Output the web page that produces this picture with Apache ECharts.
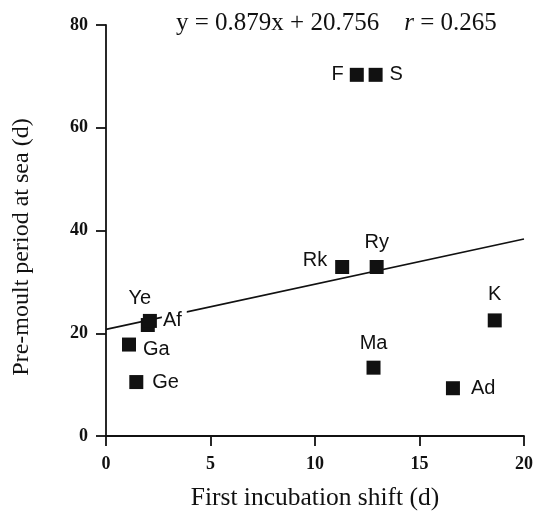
<!DOCTYPE html>
<html>
<head>
<meta charset="utf-8">
<script src="https://cdn.jsdelivr.net/npm/echarts@6/dist/echarts.min.js"></script>
<style>
html,body{margin:0;padding:0;background:#fff;}
#chart{width:541px;height:516px;}
</style>
</head>
<body>
<div id="chart"></div>
<script>
// Data
const names  = ['F', 'S', 'Rk', 'Ry', 'K', 'Ma', 'Ad', 'Ye', 'Af', 'Ga', 'Ge'];
const xVals  = [12.0, 12.9, 11.3, 12.95, 18.6, 12.8, 16.6, 2.0, 2.1, 1.1, 1.45];
const yVals  = [70.3, 70.3, 32.9, 32.9, 22.5, 13.3, 9.3, 21.6, 22.4, 17.8, 10.5];
const slope = 0.879;
const intercept = 20.756;
const rValue = 0.265;
const xTicks = [0, 5, 10, 15, 20];
const yTicks = [0, 20, 40, 60, 80];
const xTitle = 'First incubation shift (d)';
const yTitle = 'Pre-moult period at sea (d)';

// label placement per point (style only)
const labelPos = {
  F:  {position: 'left',   distance: 6},
  S:  {position: 'right',  distance: 7},
  Rk: {position: 'left',   distance: 8, offset: [0, -6]},
  Ry: {position: 'top',    distance: 7},
  K:  {position: 'top',    distance: 9},
  Ma: {position: 'top',    distance: 7},
  Ad: {position: 'right',  distance: 11},
  Ye: {position: 'top',    distance: 6, offset: [-8, -4]},
  Af: {position: 'right',  distance: 5, backgroundColor: '#fff', padding: [0, 5, 0, 1]},
  Ga: {position: 'right',  distance: 7, offset: [0, 5]},
  Ge: {position: 'right',  distance: 9}
};

const points = names.map((n, i) => ({
  value: [xVals[i], yVals[i]],
  label: Object.assign({show: true, formatter: n}, labelPos[n])
}));

const fitLine = [
  [xTicks[0], slope * xTicks[0] + intercept],
  [xTicks[xTicks.length - 1], slope * xTicks[xTicks.length - 1] + intercept]
];

const ink = '#111';
const chart = echarts.init(document.getElementById('chart'), null, {renderer: 'canvas'});
chart.setOption({
  animation: false,
  backgroundColor: '#fff',
  title: {
    left: 171,
    top: 6,
    text: '{n|y = ' + slope.toFixed(3) + 'x + ' + intercept.toFixed(3) + '    }{i|r}{n| = ' + rValue.toFixed(3) + '}',
    textStyle: {
      fontWeight: 'normal',
      rich: {
        n: {fontFamily: 'Liberation Serif', fontSize: 25, fontWeight: 'normal', color: ink},
        i: {fontFamily: 'Liberation Serif', fontSize: 25, fontWeight: 'normal', fontStyle: 'italic', color: ink}
      }
    }
  },
  graphic: [{
    type: 'text',
    x: 22,
    y: 247,
    rotation: Math.PI / 2,
    style: {
      text: yTitle,
      fontFamily: 'Liberation Serif',
      fontSize: 24,
      fill: ink,
      align: 'center',
      verticalAlign: 'middle'
    }
  }],
  grid: {left: 106, right: 17, top: 25, bottom: 75, containLabel: false},
  xAxis: {
    type: 'value',
    min: xTicks[0], max: xTicks[xTicks.length - 1], interval: 5,
    name: xTitle,
    nameLocation: 'middle',
    nameGap: 49,
    nameTextStyle: {fontFamily: 'Liberation Serif', fontSize: 25.5, color: ink},
    axisLine: {lineStyle: {color: ink, width: 1.8}},
    axisTick: {show: true, inside: false, length: 10, lineStyle: {color: ink, width: 1.8}},
    axisLabel: {fontFamily: 'Liberation Serif', fontWeight: 'bold', fontSize: 18, color: ink, margin: 19},
    splitLine: {show: false}
  },
  yAxis: {
    type: 'value',
    min: yTicks[0], max: yTicks[yTicks.length - 1], interval: 20,
    axisLine: {show: true, lineStyle: {color: ink, width: 1.8}},
    axisTick: {show: true, inside: false, length: 10, lineStyle: {color: ink, width: 1.8}},
    axisLabel: {fontFamily: 'Liberation Serif', fontWeight: 'bold', fontSize: 18, color: ink, margin: 18},
    splitLine: {show: false}
  },
  series: [
    {
      type: 'line',
      data: fitLine,
      symbol: 'none',
      z: 1,
      lineStyle: {color: ink, width: 1.6},
      silent: true
    },
    {
      type: 'scatter',
      data: points,
      symbol: 'rect',
      symbolSize: 14,
      z: 3,
      itemStyle: {color: ink, opacity: 1},
      label: {fontFamily: 'Liberation Sans', fontSize: 20, color: ink, opacity: 1}
    }
  ]
});
</script>
</body>
</html>
